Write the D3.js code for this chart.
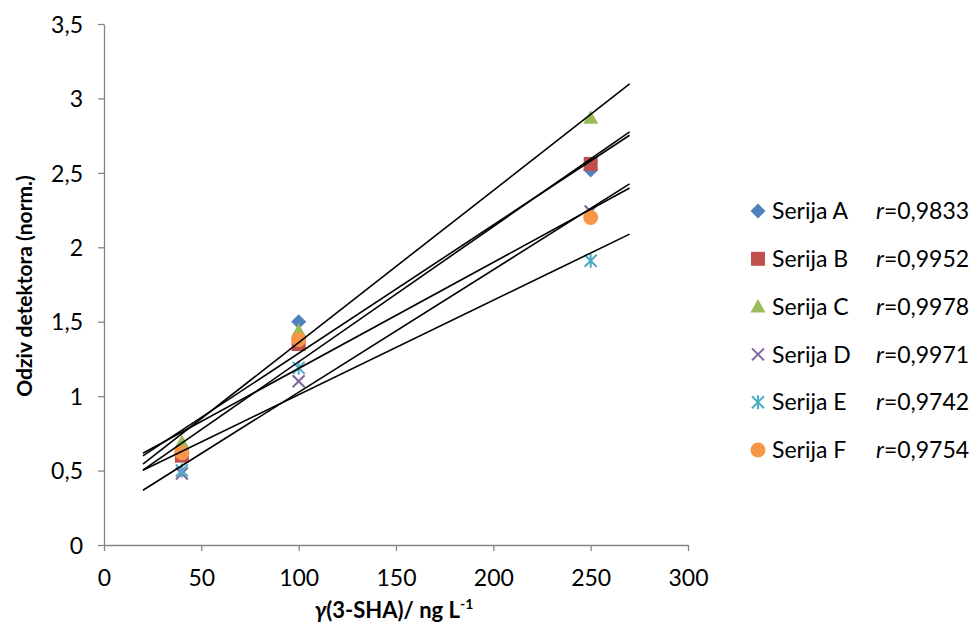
<!DOCTYPE html>
<html><head><meta charset="utf-8">
<script src="https://cdn.jsdelivr.net/npm/d3@7"></script>
<style>body{margin:0;background:#fff;} text{font-family:Lato,"Open Sans",sans-serif;}</style>
</head><body>
<svg id="c" width="973" height="635"></svg>
<script>
const xValues = [40, 100, 250];
const seriesNames = ["Serija A","Serija B","Serija C","Serija D","Serija E","Serija F"];
const rValues = ["0,9833","0,9952","0,9978","0,9971","0,9742","0,9754"];
const serA = [0.62, 1.50, 2.52];
const serB = [0.60, 1.35, 2.56];
const serC = [0.69, 1.44, 2.87];
const serD = [0.48, 1.10, 2.24];
const serE = [0.50, 1.19, 1.91];
const serF = [0.62, 1.38, 2.20];
const xTicks = [0,50,100,150,200,250,300];
const yTicks = [0,0.5,1,1.5,2,2.5,3,3.5];
const trendRange = [20, 270];
const colors = ["#4F81BD","#C0504D","#9BBB59","#8064A2","#4BACC6","#F79646"];
const shapes = ["diamond","square","triangle","x","star","circle"];
const allSeries = [serA, serB, serC, serD, serE, serF];

const svg = d3.select("#c");
const x = d3.scaleLinear().domain([0,300]).range([104,688]);
const y = d3.scaleLinear().domain([0,3.5]).range([545,24]);
const fmt = v => String(v).replace(".", ",");

// axes
const xa = svg.append("g").attr("transform","translate(0,545)")
  .call(d3.axisBottom(x).tickValues(xTicks).tickSize(6).tickSizeOuter(0).tickFormat(fmt));
const ya = svg.append("g").attr("transform","translate(104,0)")
  .call(d3.axisLeft(y).tickValues(yTicks).tickSize(6).tickSizeOuter(0).tickFormat(fmt));
[xa, ya].forEach(a => {
  a.selectAll("path,line").attr("stroke","#868686").attr("stroke-width",1.3);
  a.selectAll("text").attr("font-size",23).attr("fill","#000").style("font-family","Lato,'Open Sans',sans-serif");
});
xa.selectAll("text").attr("y", 0).attr("dy", 41);
ya.selectAll("text").attr("x", -21).attr("dy","0.36em");

function drawMarker(g, shape, color, cx, cy) {
  if (shape === "diamond") {
    g.append("path").attr("d", `M${cx},${cy-7.5}L${cx+7.5},${cy}L${cx},${cy+7.5}L${cx-7.5},${cy}Z`).attr("fill", color);
  } else if (shape === "square") {
    g.append("rect").attr("x", cx-7).attr("y", cy-7).attr("width",14).attr("height",14).attr("fill", color);
  } else if (shape === "triangle") {
    g.append("path").attr("d", `M${cx},${cy-7.5}L${cx+7.5},${cy+6}L${cx-7.5},${cy+6}Z`).attr("fill", color);
  } else if (shape === "x") {
    g.append("path").attr("d", `M${cx-6},${cy-6}L${cx+6},${cy+6}M${cx-6},${cy+6}L${cx+6},${cy-6}`).attr("stroke", color).attr("stroke-width",2);
  } else if (shape === "star") {
    g.append("path").attr("d", `M${cx-6},${cy-6}L${cx+6},${cy+6}M${cx-6},${cy+6}L${cx+6},${cy-6}M${cx},${cy-7}L${cx},${cy+7}`).attr("stroke", color).attr("stroke-width",2);
  } else {
    g.append("circle").attr("cx", cx).attr("cy", cy).attr("r", 7.5).attr("fill", color);
  }
}

// markers
const mg = svg.append("g");
allSeries.forEach((s, i) => {
  s.forEach((v, j) => drawMarker(mg, shapes[i], colors[i], x(xValues[j]), y(v)));
});

// trendlines (least squares)
const tg = svg.append("g");
allSeries.forEach(s => {
  const mx = d3.mean(xValues), my = d3.mean(s);
  let sxy = 0, sxx = 0;
  xValues.forEach((xv, j) => { sxy += (xv-mx)*(s[j]-my); sxx += (xv-mx)*(xv-mx); });
  const b = sxy/sxx, a = my - b*mx;
  tg.append("line")
    .attr("x1", x(trendRange[0])).attr("y1", y(a + b*trendRange[0]))
    .attr("x2", x(trendRange[1])).attr("y2", y(a + b*trendRange[1]))
    .attr("stroke","#000").attr("stroke-width",1.6);
});

// legend
const lg = svg.append("g");
seriesNames.forEach((n, i) => {
  const cy = 211 + i*47.8;
  drawMarker(lg, shapes[i], colors[i], 758, cy);
  lg.append("text").attr("x", 772).attr("y", cy).attr("dy","0.36em").attr("font-size",23).text(n);
  const t = lg.append("text").attr("x", 876).attr("y", cy).attr("dy","0.36em").attr("font-size",23);
  t.append("tspan").attr("font-style","italic").text("r");
  t.append("tspan").text("=" + rValues[i]);
});

// axis titles
svg.append("text").attr("transform","translate(24,286) rotate(-90)").attr("text-anchor","middle")
  .attr("dy","0.36em").attr("font-size",21).attr("font-weight","bold").text("Odziv detektora (norm.)");
const xt = svg.append("text").attr("x", 394).attr("y", 618).attr("text-anchor","middle")
  .attr("font-size",22).attr("font-weight","bold");
xt.append("tspan").attr("font-style","italic").text("γ");
xt.append("tspan").text("(3-SHA)/ ng L");
xt.append("tspan").attr("font-size",14).attr("dy",-9).text("-1");
</script>
</body></html>
